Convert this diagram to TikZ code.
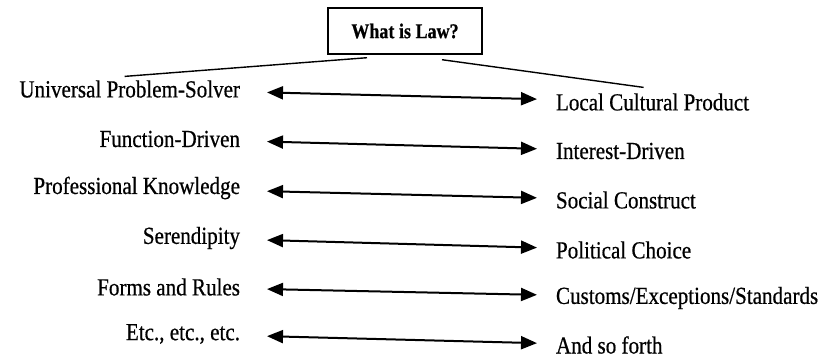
\documentclass[tikz,border=0pt]{standalone}
\usepackage{fontspec}
\setmainfont[FakeStretch=0.86,FakeBold=0.6]{Liberation Serif}
\usetikzlibrary{arrows.meta}

\begin{document}
\begin{tikzpicture}[x=1pt,y=-1pt,font=\fontsize{24.5}{28}\selectfont,line width=2pt]
    \tikzstyle{question}=[draw,line width=1.4pt,minimum width=154pt,minimum height=46pt,font=\fontsize{21}{25}\selectfont\bfseries]
    \tikzstyle{lhs}=[anchor=east,inner sep=0pt]
    \tikzstyle{rhs}=[anchor=west,inner sep=0pt]
    \tikzstyle{pair}=[{Triangle[length=16pt,width=13pt]}-{Triangle[length=16pt,width=13pt]},shorten <=26pt,shorten >=18pt]

    \useasboundingbox (0,0) rectangle (825,360);

    \node[question] (law) at (405,31) {What is Law?};

    \node[lhs] (us) at (241,89) {Universal Problem-Solver};
    \node[lhs] (fd) at (241,139) {Function-Driven};
    \node[lhs] (pk) at (241,188) {Professional Knowledge};
    \node[lhs] (se) at (241,238) {Serendipity};
    \node[lhs] (fr) at (241,287) {Forms and Rules};
    \node[lhs] (etc) at (241,334) {Etc., etc., etc.};

    \node[rhs] (lc) at (555,102) {Local Cultural Product};
    \node[rhs] (id) at (555,151) {Interest-Driven};
    \node[rhs] (sc) at (555,200) {Social Construct};
    \node[rhs] (pc) at (555,250) {Political Choice};
    \node[rhs] (ce) at (555,298) {Customs/Exceptions/Standards};
    \node[rhs] (asf) at (555,345) {And so forth};

    \draw[line width=1.4pt] ([xshift=-38pt,yshift=-3pt]law.south) -- ([xshift=-5pt,yshift=3pt]us.north);
    \draw[line width=1.4pt] ([xshift=37pt,yshift=-5pt]law.south) -- ([xshift=-9pt,yshift=5pt]lc.north);

    \draw[pair] (us) -- (lc);
    \draw[pair] (fd) -- (id);
    \draw[pair] (pk) -- (sc);
    \draw[pair] (se) -- (pc);
    \draw[pair] (fr) -- (ce);
    \draw[pair] (etc) -- (asf);
\end{tikzpicture}
\end{document}
